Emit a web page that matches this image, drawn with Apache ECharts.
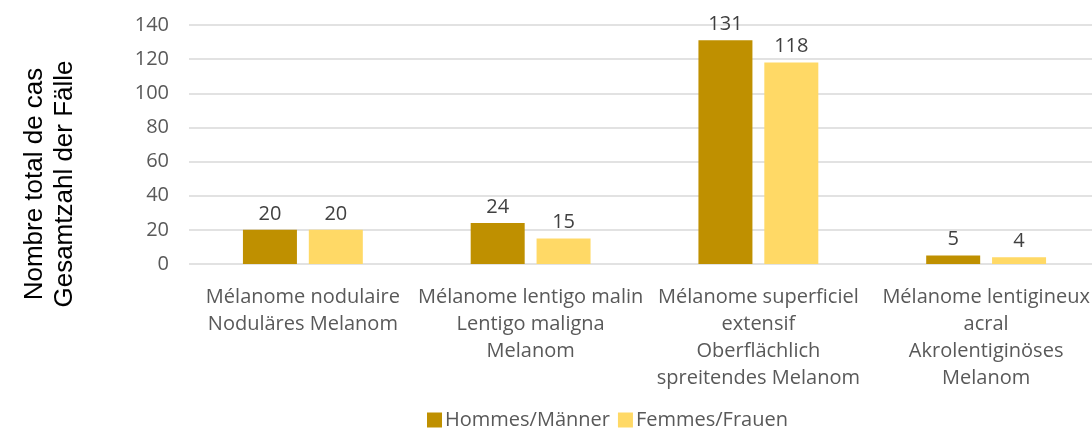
<!DOCTYPE html>
<html>
<head>
<meta charset="utf-8">
<script src="https://cdn.jsdelivr.net/npm/echarts@6/dist/echarts.min.js"></script>
<style>
  html, body { margin: 0; padding: 0; background: #fff; }
  #chart { width: 1092px; height: 430px; }
</style>
</head>
<body>
<div id="chart"></div>
<script>
const categories = [
  'Mélanome nodulaire\nNoduläres Melanom',
  'Mélanome lentigo malin\nLentigo maligna\nMelanom',
  'Mélanome superficiel\nextensif\nOberflächlich\nspreitendes Melanom',
  'Mélanome lentigineux\nacral\nAkrolentiginöses\nMelanom'
]
const men = [20, 24, 131, 5]
const women = [20, 15, 118, 4]
const seriesNames = ['Hommes/Männer', 'Femmes/Frauen']

const chart = echarts.init(document.getElementById('chart'))

const labelStyle = {
  show: true,
  position: 'top',
  distance: 6,
  color: '#404040',
  fontSize: 20,
  fontFamily: 'Open Sans'
}

chart.setOption({
  animation: false,
  backgroundColor: '#fff',
  textStyle: { fontFamily: 'Open Sans' },
  graphic: [{
    type: 'text',
    x: 50,
    y: 184,
    rotation: Math.PI / 2,
    style: {
      text: 'Nombre total de cas\nGesamtzahl der Fälle',
      fontFamily: 'Liberation Sans',
      fontSize: 26,
      lineHeight: 30,
      fill: '#000',
      align: 'center',
      verticalAlign: 'middle'
    }
  }],
  legend: {
    bottom: -5,
    left: 422,
    itemWidth: 15,
    itemHeight: 15,
    itemGap: 8,
    icon: 'rect',
    textStyle: { color: '#595959', fontSize: 20, padding: [0, 0, 0, -2] },
    data: seriesNames
  },
  grid: {
    left: 189,
    right: -8,
    top: 25,
    bottom: 166,
    outerBoundsMode: 'none'
  },
  xAxis: {
    type: 'category',
    data: categories,
    axisLine: { show: false },
    axisTick: { show: false },
    axisLabel: {
      interval: 0,
      color: '#595959',
      fontSize: 20,
      lineHeight: 27,
      margin: 20
    }
  },
  yAxis: {
    type: 'value',
    min: 0,
    max: 140,
    interval: 20,
    axisLine: { show: false },
    axisTick: { show: false },
    axisLabel: { color: '#595959', fontSize: 20, margin: 20 },
    splitLine: { lineStyle: { color: '#d9d9d9', width: 1.5 } }
  },
  series: [
    {
      name: seriesNames[0],
      type: 'bar',
      data: men,
      barWidth: 54,
      barGap: '22%',
      itemStyle: { color: '#bf9000' },
      label: labelStyle
    },
    {
      name: seriesNames[1],
      type: 'bar',
      data: women,
      barWidth: 54,
      itemStyle: { color: '#ffd966' },
      label: labelStyle
    }
  ]
})
</script>
</body>
</html>
